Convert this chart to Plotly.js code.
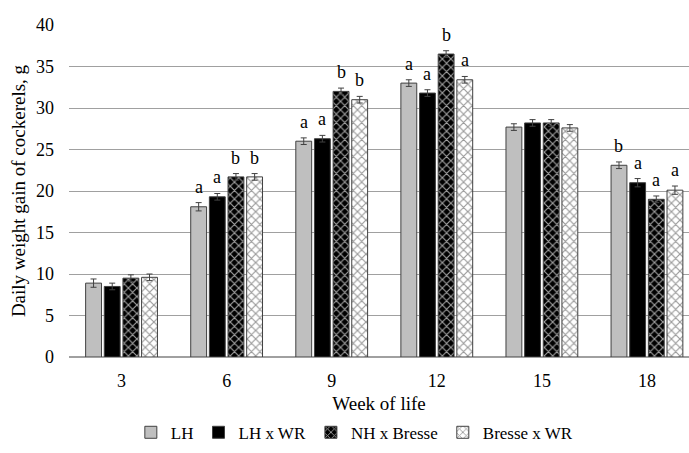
<!DOCTYPE html>
<html>
<head>
<meta charset="utf-8">
<script src="https://cdn.plot.ly/plotly-3.0.1.min.js"></script>
<style>html,body{margin:0;padding:0;background:#fff;}#chart{width:689px;height:453px;}</style>
</head>
<body>
<div id="chart"></div>
<script>
const weeks = ['3', '6', '9', '12', '15', '18'];
const seriesNames = ['LH', 'LH x WR', 'NH x Bresse', 'Bresse x WR'];
const lh        = [8.9, 18.1, 26.0, 33.0, 27.7, 23.1];
const lhWr      = [8.5, 19.3, 26.3, 31.8, 28.2, 21.0];
const nhBresse  = [9.5, 21.7, 32.0, 36.5, 28.2, 19.0];
const bresseWr  = [9.6, 21.7, 31.0, 33.4, 27.6, 20.1];
const lhErr       = [0.5, 0.5, 0.4, 0.4, 0.4, 0.4];
const lhWrErr     = [0.4, 0.4, 0.4, 0.4, 0.4, 0.5];
const nhBresseErr = [0.4, 0.4, 0.4, 0.4, 0.4, 0.4];
const bresseWrErr = [0.4, 0.4, 0.4, 0.4, 0.4, 0.5];
const lhLetters       = ['', 'a', 'a', 'a', '', 'b'];
const lhWrLetters     = ['', 'a', 'a', 'a', '', 'a'];
const nhBresseLetters = ['', 'b', 'b', 'b', '', 'a'];
const bresseWrLetters = ['', 'b', 'b', 'a', '', 'a'];

const values = [lh, lhWr, nhBresse, bresseWr];
const errs = [lhErr, lhWrErr, nhBresseErr, bresseWrErr];
const letters = [lhLetters, lhWrLetters, nhBresseLetters, bresseWrLetters];

const font = '"Liberation Serif", "Times New Roman", Times, serif';
const outline = '#404040';
const BARGAP = 0.29;
const GROUPGAP = 0.15;
const xIdx = weeks.map((w, i) => i);

const markers = [
  {color: '#bfbfbf', line: {color: outline, width: 1}},
  {color: '#000000', line: {color: outline, width: 1}},
  {color: '#000000', line: {color: outline, width: 1},
   pattern: {shape: 'x', bgcolor: '#000000', fgcolor: '#a0a0a0', size: 6, solidity: 0.35, fillmode: 'replace'}},
  {color: '#ffffff', line: {color: outline, width: 1},
   pattern: {shape: 'x', bgcolor: '#ffffff', fgcolor: '#9a9a9a', size: 6, solidity: 0.35, fillmode: 'replace'}}
];

const traces = seriesNames.map((name, j) => ({
  type: 'bar',
  name: name,
  x: xIdx,
  y: values[j],
  marker: markers[j],
  error_y: {type: 'data', array: errs[j], visible: true, color: outline, thickness: 1, width: 3},
  hoverinfo: 'skip'
}));

const annotations = [];
const slot = (1 - BARGAP) / seriesNames.length;
seriesNames.forEach((name, j) => {
  xIdx.forEach((i) => {
    const t = letters[j][i];
    if (!t) return;
    annotations.push({
      x: i + (j - (seriesNames.length - 1) / 2) * slot,
      y: values[j][i] + errs[j][i],
      xref: 'x', yref: 'y',
      text: t, showarrow: false,
      yanchor: 'bottom', yshift: 4,
      font: {family: font, size: 18, color: '#000'}
    });
  });
});

const layout = {
  width: 689, height: 453,
  margin: {l: 69, r: 0, t: 25, b: 96, autoexpand: false},
  paper_bgcolor: '#fff', plot_bgcolor: '#fff',
  barmode: 'group', bargap: BARGAP, bargroupgap: GROUPGAP,
  font: {family: font, size: 17, color: '#000'},
  xaxis: {
    range: [-0.5, 5.4],
    tickmode: 'array', tickvals: xIdx, ticktext: weeks,
    showgrid: false, zeroline: false,
    showline: false, ticks: '',
    ticklabelstandoff: 11,
    automargin: false,
    tickfont: {family: font, size: 18, color: '#000'},
    title: {text: 'Week of life', font: {family: font, size: 19, color: '#000'}, standoff: 6},
    fixedrange: true
  },
  yaxis: {
    range: [0, 40], dtick: 5, tick0: 0,
    showgrid: true, gridcolor: '#a0a0a0', gridwidth: 1,
    zeroline: true, zerolinecolor: '#a0a0a0', zerolinewidth: 1.5,
    showline: false, ticks: '',
    ticklabelstandoff: 14,
    automargin: false,
    tickfont: {family: font, size: 18, color: '#000'},
    title: {text: 'Daily weight gain of cockerels, g', font: {family: font, size: 19, color: '#000'}, standoff: 5},
    fixedrange: true
  },
  showlegend: true,
  legend: {
    orientation: 'h', xref: 'container', yref: 'container',
    x: 0.515, xanchor: 'center', y: 0.005, yanchor: 'bottom',
    font: {family: font, size: 17, color: '#000'},
    itemwidth: 30, traceorder: 'normal', tracegroupgap: 0
  },
  annotations: annotations
};

Plotly.newPlot('chart', traces, layout, {displayModeBar: false, staticPlot: true});
</script>
</body>
</html>
